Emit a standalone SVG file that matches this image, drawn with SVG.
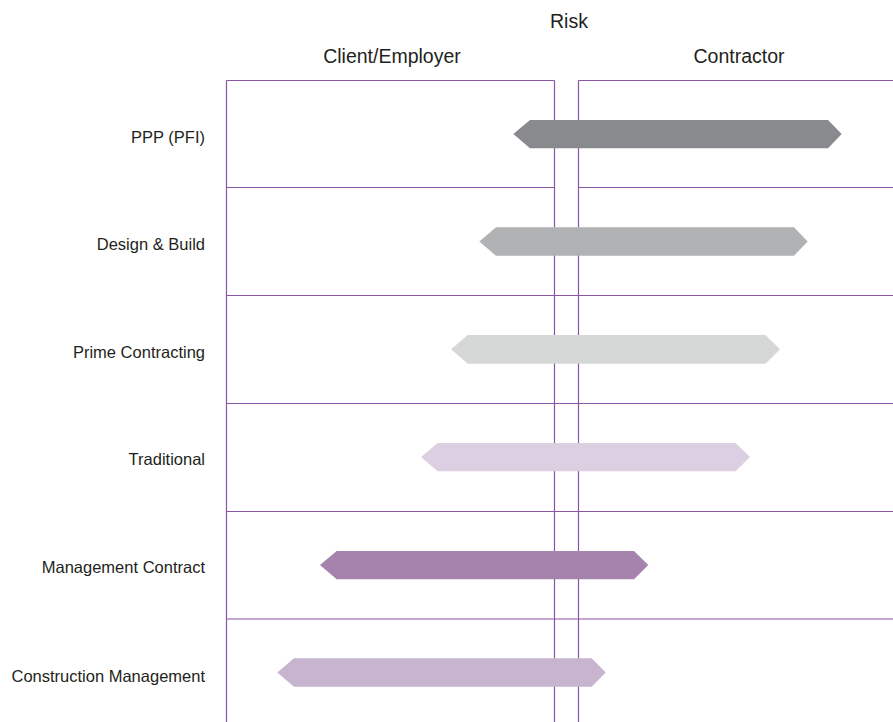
<svg xmlns="http://www.w3.org/2000/svg" width="893" height="722" viewBox="0 0 893 722">
<style>
text{font-family:"Liberation Sans",Arial,sans-serif;font-size:16.5px;fill:#231f20}
.lbl{text-anchor:end}
.hdr{text-anchor:middle;font-size:19.5px}
.grid line{stroke:#8a55a3;stroke-width:1.2}
</style>
<rect width="893" height="722" fill="#fff"/>
<g id="headers">
<text class="hdr" x="569" y="28">Risk</text>
<text class="hdr" x="392" y="63">Client/Employer</text>
<text class="hdr" x="739" y="63">Contractor</text>
</g>
<g id="grid" class="grid">
<line x1="226.5" y1="80.5" x2="226.5" y2="722"/>
<line x1="554.5" y1="80.5" x2="554.5" y2="722"/>
<line x1="578.5" y1="80.5" x2="578.5" y2="722"/>
<line x1="226.5" y1="80.5" x2="554.5" y2="80.5"/>
<line x1="578.5" y1="80.5" x2="893" y2="80.5"/>
<line x1="226.5" y1="187.5" x2="554.5" y2="187.5"/>
<line x1="578.5" y1="187.5" x2="893" y2="187.5"/>
<line x1="226.5" y1="295.5" x2="893" y2="295.5"/>
<line x1="226.5" y1="403.5" x2="893" y2="403.5"/>
<line x1="226.5" y1="511.5" x2="893" y2="511.5"/>
<line x1="226.5" y1="619" x2="893" y2="619"/>
</g>
<g id="row-ppp">
<text class="lbl" x="205" y="143">PPP (PFI)</text>
<polygon fill="#898a8d" points="513.3,134 530,120 828,120 841.7,134 828,148.3 530,148.3"/>
</g>
<g id="row-db">
<text class="lbl" x="205" y="250">Design &amp; Build</text>
<polygon fill="#b1b2b4" points="479.3,241.5 496,227.3 794,227.3 807.7,241.5 794,255.7 496,255.7"/>
</g>
<g id="row-prime">
<text class="lbl" x="205" y="358">Prime Contracting</text>
<polygon fill="#d6d7d7" points="451,349.3 467.7,335 765.5,335 780,349.3 765.5,363.7 467.7,363.7"/>
</g>
<g id="row-traditional">
<text class="lbl" x="205" y="465">Traditional</text>
<polygon fill="#dbcfe1" points="421,457 437.7,443 735.5,443 750,457 735.5,471.3 437.7,471.3"/>
</g>
<g id="row-mc">
<text class="lbl" x="205" y="573">Management Contract</text>
<polygon fill="#a583ad" points="320,565 336.7,551 634,551 648.3,565 634,579.3 336.7,579.3"/>
</g>
<g id="row-cm">
<text class="lbl" x="205" y="682">Construction Management</text>
<polygon fill="#c7b4cf" points="277.3,672.5 294,658.3 591.7,658.3 605.7,672.5 591.7,686.7 294,686.7"/>
</g>
</svg>
